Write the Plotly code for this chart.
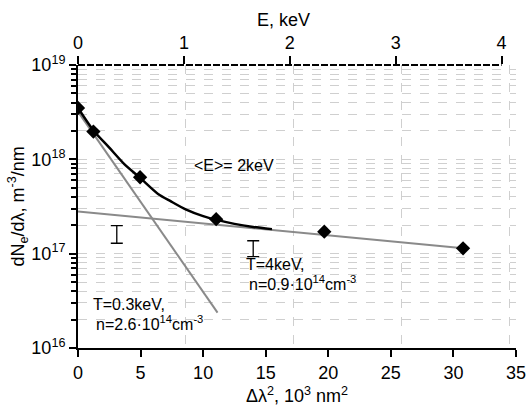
import numpy as np
import plotly.graph_objects as go

# data
pts_x = [0.0, 1.23, 4.96, 11.04, 19.68, 30.77]          # 10^3 nm^2
pts_y = [3.5e18, 1.97e18, 6.46e17, 2.32e17, 1.71e17, 1.14e17]

curve_x = [0, 1.2, 2.5, 3.7, 5.0, 6.4, 7.4, 8.6, 10.0, 11.1, 12.5, 14.0, 15.5]
curve_y = [3.5e18, 2.05e18, 1.33e18, 8.9e17, 6.3e17, 4.3e17, 3.6e17, 2.95e17,
           2.5e17, 2.28e17, 2.07e17, 1.92e17, 1.82e17]

steep_x = [0, 11.15]
steep_y = [3.2e18, 2.37e16]
flat_x = [0, 30.8]
flat_y = [2.8e17, 1.14e17]

err_x = [3.1, 14.0]
err_c = [1.6e17, 1.13e17]
err_top = [1.98e17, 1.37e17]
err_bot = [1.29e17, 9.3e16]

x_ticks = [0, 5, 10, 15, 20, 25, 30, 35]
e_ticks = [0, 1, 2, 3, 4]
y_ticks = [1e16, 1e17, 1e18, 1e19]
y_ticktext = ["10<sup>16</sup>", "10<sup>17</sup>", "10<sup>18</sup>", "10<sup>19</sup>"]
y_minor = [m * 10.0 ** d for d in (16, 17, 18) for m in range(2, 10)]

FONT = "Liberation Sans, Arial, sans-serif"
GRID = "#cfcfcf"
GRAY = "#8a8a8a"

fig = go.Figure()

fig.add_trace(go.Scatter(x=steep_x, y=steep_y, mode="lines",
                         line=dict(color=GRAY, width=2), showlegend=False))
fig.add_trace(go.Scatter(x=flat_x, y=flat_y, mode="lines",
                         line=dict(color=GRAY, width=2), showlegend=False))
fig.add_trace(go.Scatter(x=curve_x, y=curve_y, mode="lines", line_shape="spline",
                         line=dict(color="black", width=2.5, smoothing=0.7),
                         showlegend=False))
fig.add_trace(go.Scatter(x=pts_x, y=pts_y, mode="markers",
                         marker=dict(symbol="diamond", size=11, color="black"),
                         showlegend=False))
fig.add_trace(go.Scatter(
    x=err_x, y=err_c, mode="markers",
    marker=dict(size=1, color="rgba(0,0,0,0)"),
    error_y=dict(type="data", symmetric=False,
                 array=[t - c for t, c in zip(err_top, err_c)],
                 arrayminus=[c - b for c, b in zip(err_c, err_bot)],
                 color="black", thickness=1.3, width=6),
    showlegend=False))

# invisible traces so the extra axes render
fig.add_trace(go.Scatter(x=[0], y=[1e16], xaxis="x2", mode="markers",
                         marker=dict(color="rgba(0,0,0,0)"), showlegend=False, hoverinfo="skip"))
fig.add_trace(go.Scatter(x=[0], y=[1e16], xaxis="x3", mode="markers",
                         marker=dict(color="rgba(0,0,0,0)"), showlegend=False, hoverinfo="skip"))

ann_font = dict(family=FONT, size=16, color="black")
annots = [
    dict(x=9.1, y=np.log10(8.7e17), text="&lt;E&gt;= 2keV"),
    dict(x=13.3, y=np.log10(7.6e16), text="T=4keV,"),
    dict(x=13.5, y=np.log10(4.89e16), text="n=0.9·10<sup>14</sup>cm<sup>-3</sup>"),
    dict(x=1.0, y=np.log10(2.86e16), text="T=0.3keV,"),
    dict(x=1.3, y=np.log10(1.84e16), text="n=2.6·10<sup>14</sup>cm<sup>-3</sup>"),
]
for a in annots:
    fig.add_annotation(xref="x", yref="y", xanchor="left", yanchor="middle",
                       showarrow=False, font=ann_font, **a)

fig.add_annotation(xref="paper", yref="paper", x=0.47, y=1.159,
                   xanchor="center", yanchor="middle", showarrow=False,
                   text="E, keV", font=dict(family=FONT, size=18, color="black"))
fig.add_annotation(xref="paper", yref="paper", x=-0.137, y=0.5,
                   xanchor="center", yanchor="middle", showarrow=False, textangle=-90,
                   text="dN<sub>e</sub>/dλ, m<sup>-3</sup>/nm",
                   font=dict(family=FONT, size=18, color="black"))

# dashed-looking top axis line
fig.add_shape(type="line", xref="x2", yref="paper", x0=0, x1=4, y0=1, y1=1,
              line=dict(color="black", width=2, dash="7px,2px"))

fig.update_layout(
    width=531, height=411,
    margin=dict(l=78, r=15, t=65, b=63),
    plot_bgcolor="white", paper_bgcolor="white",
    font=dict(family=FONT, size=18, color="black"),
    xaxis=dict(range=[0, 35], tickvals=x_ticks, ticks="outside", ticklen=7,
               tickwidth=2, tickcolor="black", showline=True, linecolor="black",
               linewidth=2, showgrid=False, zeroline=False, automargin=False,
               tickfont=dict(size=18),
               title=dict(text="Δλ<sup>2</sup>, 10<sup>3</sup> nm<sup>2</sup>",
                          font=dict(size=18), standoff=8)),
    xaxis2=dict(range=[0, 4.136], overlaying="x", side="top", tickvals=e_ticks,
                ticks="outside", ticklen=8, tickwidth=2, tickcolor="black",
                showline=False, showgrid=False, zeroline=False, automargin=False,
                tickfont=dict(size=18)),
    xaxis3=dict(range=[0, 4.065], overlaying="x", side="bottom",
                showticklabels=False, ticks="", tickvals=[1, 2, 3, 4],
                showgrid=True, gridcolor=GRID, griddash="dash", gridwidth=1,
                showline=False, zeroline=False, automargin=False),
    yaxis=dict(type="log", range=[16, 19], tickvals=y_ticks, ticktext=y_ticktext,
               ticks="outside", ticklen=7, tickwidth=2, tickcolor="black",
               showline=True, linecolor="black", linewidth=2, automargin=False,
               showgrid=True, gridcolor=GRID, griddash="dash", gridwidth=1,
               zeroline=False, tickfont=dict(size=18),
               minor=dict(tickvals=y_minor, ticks="outside", ticklen=5, tickwidth=1.5,
                          tickcolor="black", showgrid=True, gridcolor=GRID,
                          griddash="dash", gridwidth=1)),
)

fig.write_html("out.html", config={"displayModeBar": False},
               post_script="document.body.style.margin='0px';document.body.style.overflow='hidden';")
